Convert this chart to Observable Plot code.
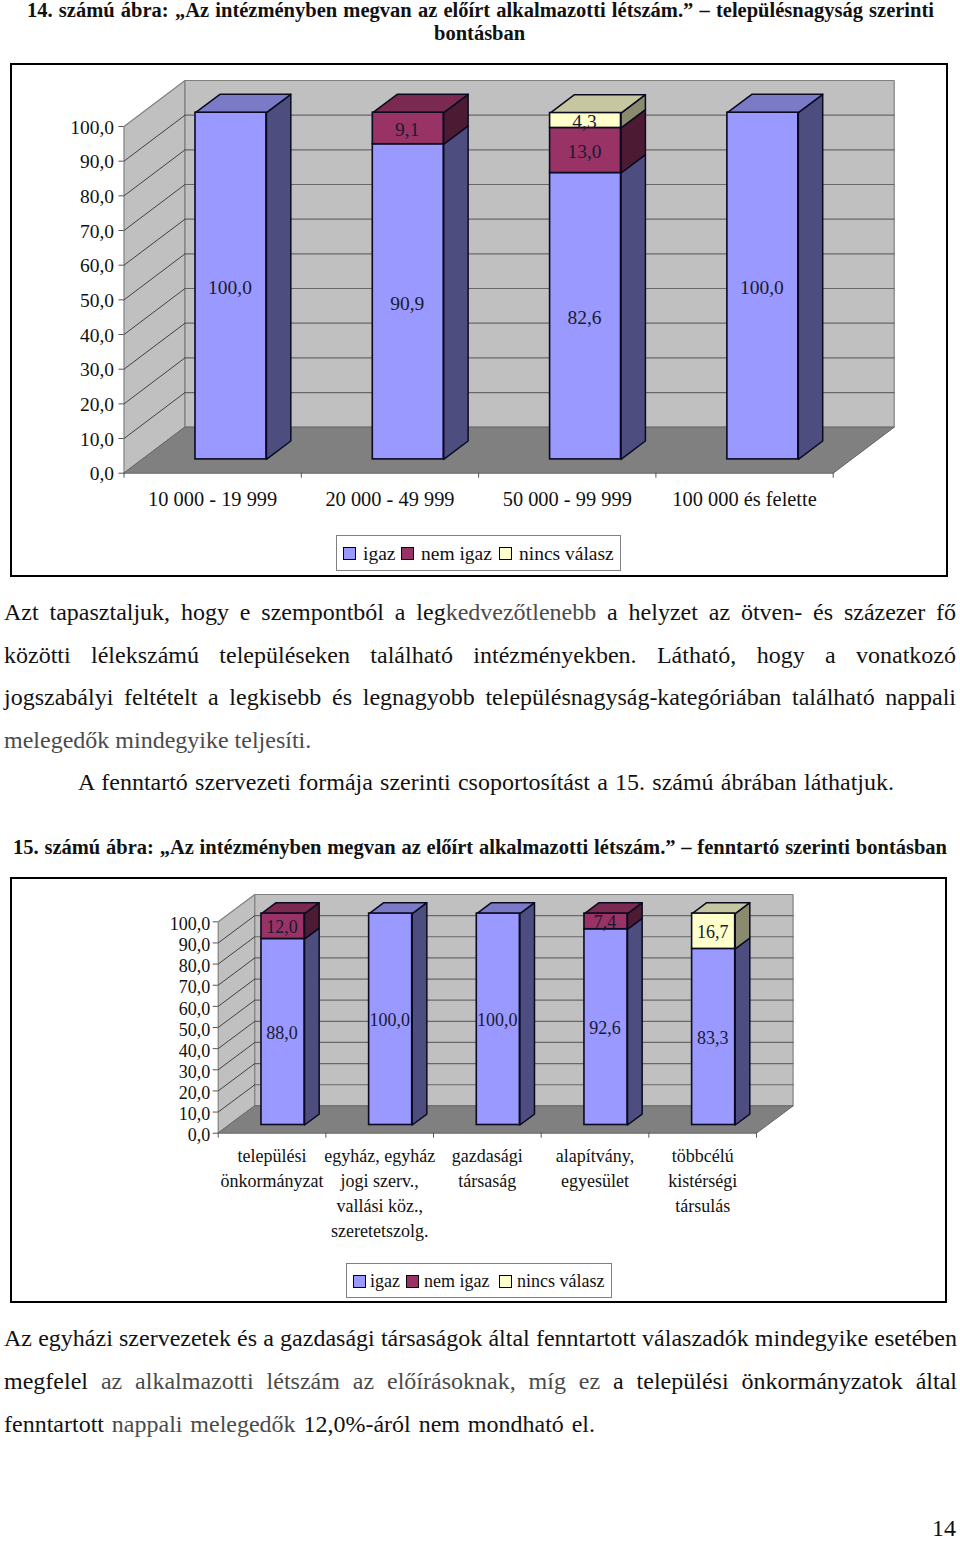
<!DOCTYPE html>
<html lang="hu">
<head>
<meta charset="utf-8">
<script src="https://cdn.jsdelivr.net/npm/d3@7"></script>
<script src="https://cdn.jsdelivr.net/npm/@observablehq/plot@0.6"></script>
<style>
html,body{margin:0;padding:0;background:#fff}
#page{position:relative;width:960px;height:1541px;overflow:hidden;font-family:"Liberation Serif",serif;color:#111}
.ln{position:absolute;white-space:nowrap;line-height:30px;height:30px}
.j{text-align:justify;text-align-last:justify}
.body{font-size:24px}
.ttl{font-size:20.5px;font-weight:bold;line-height:20px;height:20px}
.l{color:#4a4a4a}
.frame{position:absolute;border:2px solid #000;box-sizing:border-box}
.legend{position:absolute;border:1px solid #808080;box-sizing:border-box;background:#fff}
.sw{position:absolute;width:13px;height:13px;border:1.5px solid #000;box-sizing:border-box}
.lt{position:absolute;line-height:24px;white-space:nowrap}
svg{position:absolute;left:0}
</style>
</head>
<body>
<div id="page"></div>
<script>
// Chart 14
const categories14 = ["10 000 - 19 999", "20 000 - 49 999", "50 000 - 99 999", "100 000 és felette"];
const igaz14 = [100.0, 90.9, 82.6, 100.0];
const nemIgaz14 = [0, 9.1, 13.0, 0];
const nincsValasz14 = [0, 0, 4.3, 0];
// Chart 15
const categories15 = ["települési\nönkormányzat", "egyház, egyház\njogi szerv.,\nvallási köz.,\nszeretetszolg.", "gazdasági\ntársaság", "alapítvány,\negyesület", "többcélú\nkistérségi\ntársulás"];
const igaz15 = [88.0, 100.0, 100.0, 92.6, 83.3];
const nemIgaz15 = [12.0, 0, 0, 7.4, 0];
const nincsValasz15 = [0, 0, 0, 0, 16.7];
const yTicks = [0, 10, 20, 30, 40, 50, 60, 70, 80, 90, 100];
const seriesNames = ["igaz", "nem igaz", "nincs válasz"];
const palette = [
  {front: "#9999ff", side: "#4d4d80", top: "#7a7ac6"},
  {front: "#993366", side: "#4d1a33", top: "#7a2950"},
  {front: "#ffffcc", side: "#8a8a6e", top: "#c6c6a0"}
];
const comma = (v) => v.toFixed(1).replace(".", ",");

function chart3D({categories, series, top, height, marginLeft, marginRight, marginTop, marginBottom, kx, ky, tickFont, tickPadding, tickDy, labelFont, catFont, catDy, labelDy}) {
  const n = categories.length;
  const P = (u, v, d) => ({x: u + d * kx, y: v + d * ky});
  const polys = (id, fill, pts) => pts.map(([u, v, d]) => ({...P(u, v, d), id, fill}));
  const leftWall = polys("lw", "#c0c0c0", [[0,0,0],[0,100,0],[0,100,1],[0,0,1]]);
  const backWall = polys("bw", "#c0c0c0", [[0,0,1],[0,100,1],[n,100,1],[n,0,1]]);
  const floor = polys("fl", "#808080", [[0,0,0],[n,0,0],[n,0,1],[0,0,1]]);
  const backGrid = yTicks.slice(1, -1).flatMap((v) => [P(0, v, 1), P(n, v, 1)].map((p) => ({...p, id: v})));
  const sideGrid = yTicks.slice(1, -1).flatMap((v) => [P(0, v, 0), P(0, v, 1)].map((p) => ({...p, id: v})));
  const d0 = 0.3, d1 = 0.7, b0 = 0.3, b1 = 0.7;
  const faces = [], fronts = [], labels = [];
  categories.forEach((c, i) => {
    let base = 0, topColor = null;
    series.forEach((vals, s) => {
      const v = vals[i];
      if (!v) return;
      const t = base + v, u0 = i + b0, u1 = i + b1;
      faces.push(...polys(`s${i}-${s}`, palette[s].side, [[u1,base,d0],[u1,t,d0],[u1,t,d1],[u1,base,d1]]));
      const a = P(u0, base, d0), b = P(u1, t, d0);
      fronts.push({x1: a.x, x2: b.x, y1: a.y, y2: b.y, fill: palette[s].front});
      const m = P(i + 0.5, base + v / 2, d0);
      labels.push({...m, text: comma(v)});
      base = t; topColor = palette[s].top;
    });
    faces.push(...polys(`t${i}`, topColor, [[i+b0,base,d0],[i+b1,base,d0],[i+b1,base,d1],[i+b0,base,d1]]));
  });
  return Plot.plot({
    width: 960, height, marginLeft, marginRight, marginTop, marginBottom,
    x: {domain: [0, n], axis: null},
    y: {domain: [0, 100], axis: null},
    style: {background: "transparent", fontFamily: "'Liberation Serif', serif", color: "#111", top: top + "px"},
    marks: [
      Plot.line(leftWall, {x: "x", y: "y", z: "id", fill: "fill", stroke: "#808080", strokeWidth: 1.2, curve: "linear-closed"}),
      Plot.line(backWall, {x: "x", y: "y", z: "id", fill: "fill", stroke: "#808080", strokeWidth: 1.2, curve: "linear-closed"}),
      Plot.line(backGrid, {x: "x", y: "y", z: "id", stroke: "#686868", strokeWidth: 1.2}),
      Plot.line(sideGrid, {x: "x", y: "y", z: "id", stroke: "#333", strokeWidth: 0.9}),
      Plot.line(floor, {x: "x", y: "y", z: "id", fill: "fill", stroke: "#666", strokeWidth: 1, curve: "linear-closed"}),
      Plot.axisY(yTicks, {anchor: "left", tickSize: 5, tickPadding, stroke: "#555", fontSize: tickFont, tickFormat: () => "", label: null}),
      Plot.text(yTicks, {x: () => 0, y: (d) => d, text: comma, textAnchor: "end", lineAnchor: "middle", dx: -(5 + tickPadding), dy: tickDy, fontSize: tickFont, fill: "#111"}),
      Plot.axisX(d3.range(n + 1), {anchor: "bottom", tickSize: 5, stroke: "#555", tickFormat: () => "", label: null}),
      Plot.line(faces, {x: "x", y: "y", z: "id", fill: "fill", stroke: "#0a0a20", strokeWidth: 1.5, curve: "linear-closed"}),
      Plot.rect(fronts, {x1: "x1", x2: "x2", y1: "y1", y2: "y2", fill: "fill", stroke: "#0a0a20", strokeWidth: 1.6}),
      Plot.text(labels, {x: "x", y: "y", text: "text", fontSize: labelFont, dx: -1, dy: labelDy, lineAnchor: "middle", fill: "#1a1a30"}),
      Plot.text(categories, {x: (d, i) => i + 0.5, y: () => 0, text: (d) => d, fontSize: catFont, dy: catDy, lineAnchor: "top", lineHeight: 25 / catFont, fill: "#111"})
    ]
  });
}

const page = document.getElementById("page");
function addLine(html, left, width, cy, cls) {
  const d = document.createElement("div");
  d.className = "ln " + cls;
  d.style.left = left + "px";
  if (width) d.style.width = width + "px";
  d.style.top = (cy - (cls.includes("ttl") ? 10 : 16)) + "px";
  d.innerHTML = html;
  page.appendChild(d);
}
function addBox(cls, l, t, w, h) {
  const d = document.createElement("div");
  d.className = cls;
  Object.assign(d.style, {left: l + "px", top: t + "px", width: w + "px", height: h + "px"});
  page.appendChild(d);
  return d;
}
function legend(box, swatchX, textX, swatchY, textY, fontSize) {
  addBox("legend", ...box);
  seriesNames.forEach((name, i) => {
    const s = addBox("sw", swatchX[i], swatchY, 13, 13);
    s.style.background = palette[i].front;
    const t = document.createElement("div");
    t.className = "lt";
    t.textContent = name;
    t.style.fontSize = fontSize + "px";
    t.style.left = textX[i] + "px";
    t.style.top = textY + "px";
    page.appendChild(t);
  });
}

addBox("frame", 10, 63, 938, 514);
addBox("frame", 10, 877, 937, 426);

page.appendChild(chart3D({
  categories: categories14, series: [igaz14, nemIgaz14, nincsValasz14],
  top: 0, height: 590, marginLeft: 123.5, marginRight: 127.3, marginTop: 126, marginBottom: 117.3,
  kx: 61 / 177.3, ky: 46 / 3.467, tickFont: 19.5, tickPadding: 5, tickDy: 1, labelFont: 19.5, catFont: 20.4, catDy: 15, labelDy: 1.5
}));
page.appendChild(chart3D({
  categories: categories15, series: [igaz15, nemIgaz15, nincsValasz15],
  top: 870, height: 440, marginLeft: 217.7, marginRight: 204, marginTop: 51.3, marginBottom: 177.3,
  kx: 36.6 / 107.7, ky: 27.3 / 2.113, tickFont: 18, tickPadding: 3, tickDy: 2.5, labelFont: 18, catFont: 18, catDy: 11, labelDy: 1
}));

legend([336, 535, 285, 36], [343, 401, 499], [363, 421, 519], 547, 542, 19.5);
legend([346, 1263, 266, 35], [353, 406, 499], [370, 424, 517], 1275, 1269, 18);

addLine("14. számú ábra: „Az intézményben megvan az előírt alkalmazotti létszám.” – településnagyság szerinti", 27, 907, 10, "ttl j");
addLine("bontásban", 434, 92, 33, "ttl j");
addLine('Azt tapasztaljuk, hogy e szempontból a leg<span class="l">kedvezőtlenebb</span> a helyzet az ötven- és százezer fő', 4, 952, 613, "body j");
addLine("közötti lélekszámú településeken található intézményekben. Látható, hogy a vonatkozó", 4, 952, 656, "body j");
addLine("jogszabályi feltételt a legkisebb és legnagyobb településnagyság-kategóriában található nappali", 4, 952, 698, "body j");
addLine('<span class="l">melegedők mindegyike teljesíti.</span>', 4, 303, 741, "body j");
addLine("A fenntartó szervezeti formája szerinti csoportosítást a 15. számú ábrában láthatjuk.", 78, 816, 783, "body j");
addLine("15. számú ábra: „Az intézményben megvan az előírt alkalmazotti létszám.” – fenntartó szerinti bontásban", 13, 934, 847, "ttl j");
addLine("Az egyházi szervezetek és a gazdasági társaságok által fenntartott válaszadók mindegyike esetében", 4, 953, 1339, "body j");
addLine('megfelel <span class="l">az alkalmazotti létszám az előírásoknak, míg ez</span> a települési önkormányzatok által', 4, 953, 1382, "body j");
addLine('fenntartott <span class="l">nappali melegedők</span> 12,0%-áról nem mondható el.', 4, 591, 1425, "body j");
addLine("14", 932, 24, 1529, "body j");
</script>
</body>
</html>
